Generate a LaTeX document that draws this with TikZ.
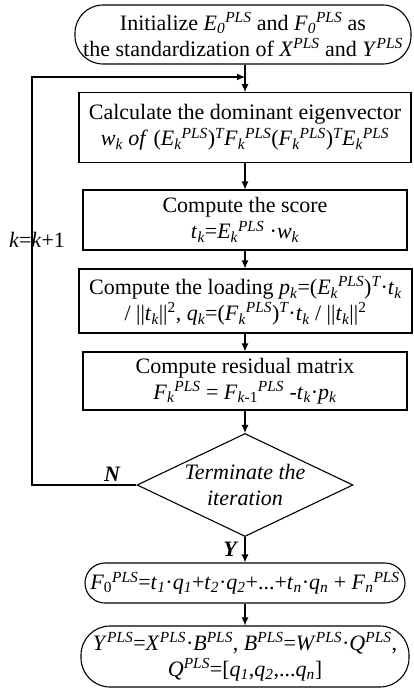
\documentclass[tikz,border=0pt]{standalone}
\usepackage{fontspec}
\setmainfont{Liberation Serif}
\usetikzlibrary{arrows.meta,shapes.geometric}
\newcommand{\Sb}[1]{\textsubscript{\itshape #1}}
\newcommand{\Sp}[1]{\textsuperscript{\itshape #1}}
\newcommand{\PLS}{\Sp{PLS}}
\begin{document}
\begin{tikzpicture}[x=1pt,y=-1pt,
  every node/.style={font=\fontsize{22}{26}\selectfont},
  box/.style={draw,line width=1.1pt,rectangle,align=center,inner sep=0pt},
  rbox/.style={box,rounded corners=22pt},
  conn/.style={line width=1.1pt,-{Latex[length=8pt,width=7pt]}},
  line/.style={line width=1.1pt}]
\useasboundingbox (0,0) rectangle (413,689);
\node[rbox,rounded corners=28pt,minimum width=336pt,minimum height=59pt] (init) at (243,34.5)
  {Initialize \textit{E}\Sb{0}\PLS{} and \textit{F}\Sb{0}\PLS{} as\\the standardization of \textit{X}\PLS{} and \textit{Y}\PLS};
\node[box,minimum width=332pt,minimum height=70pt] (calc) at (245,127.7)
  {Calculate the dominant eigenvector\\\textit{w}\Sb{k} \textit{of} (\textit{E}\Sb{k}\PLS)\Sp{T}\textit{F}\Sb{k}\PLS(\textit{F}\Sb{k}\PLS)\Sp{T}\textit{E}\Sb{k}\PLS};
\node[box,minimum width=324pt,minimum height=60pt] (score) at (245,220)
  {Compute the score\\\textit{t}\Sb{k}=\textit{E}\Sb{k}\PLS{} ·\textit{w}\Sb{k}};
\node[box,minimum width=333pt,minimum height=64pt] (load) at (245.5,301)
  {Compute the loading \textit{p}\Sb{k}=(\textit{E}\Sb{k}\PLS)\Sp{T}·\textit{t}\Sb{k}\\/ ||\textit{t}\Sb{k}||\textsuperscript{2}, \textit{q}\Sb{k}=(\textit{F}\Sb{k}\PLS)\Sp{T}·\textit{t}\Sb{k} / ||\textit{t}\Sb{k}||\textsuperscript{2}};
\node[box,minimum width=324pt,minimum height=58pt] (resid) at (245,381)
  {Compute residual matrix\\\textit{F}\Sb{k}\PLS{} = \textit{F}\textsubscript{\textit{k}-1}\PLS{} -\textit{t}\Sb{k}·\textit{p}\Sb{k}};
\node[diamond,draw,line width=1.1pt,minimum width=216pt,minimum height=103pt,inner sep=0pt] (dec) at (245,485) {};
\node[align=center,font=\fontsize{22}{26}\selectfont\itshape] (dectext) at (dec.center) {Terminate the\\iteration};
\node[rbox,rounded corners=20pt,minimum width=320pt,minimum height=40pt] (fin1) at (245,583)
  {\textit{F}\textsubscript{0}\PLS=\textit{t}\Sb{1}·\textit{q}\Sb{1}+\textit{t}\Sb{2}·\textit{q}\Sb{2}+...+\textit{t}\Sb{n}·\textit{q}\Sb{n} + \textit{F}\Sb{n}\PLS};
\node[rbox,rounded corners=29pt,minimum width=328pt,minimum height=61pt] (fin2) at (245,656.5)
  {\textit{Y}\PLS=\textit{X}\PLS·\textit{B}\PLS, \textit{B}\PLS=\textit{W}\PLS·\textit{Q}\PLS,\\\textit{Q}\PLS=[\textit{q}\Sb{1},\textit{q}\Sb{2},...\textit{q}\Sb{n}]};
\coordinate (join) at (245,77);
\coordinate (corner) at (32,485);
\draw[conn] (init.south -| join) -- (calc.north -| join);
\draw[conn] (calc.south -| join) -- (score.north -| join);
\draw[conn] (score.south -| join) -- (load.north -| join);
\draw[conn] (load.south -| join) -- (resid.north -| join);
\draw[conn] (resid.south -| join) -- (dec.north);
\draw[conn] (dec.south) -- (fin1.north -| join);
\draw[conn] (fin1.south -| join) -- (fin2.north -| join);
\draw[conn] (dec.west) -- (corner) |- (join);
\node[font=\fontsize{22}{26}\selectfont\bfseries\itshape] (nlab) at (112,474) {N};
\node[font=\fontsize{22}{26}\selectfont\bfseries\itshape] (ylab) at (230,549) {Y};
\node (klab) at (37,240) {\textit{k}=\textit{k}+1};
\end{tikzpicture}
\end{document}
